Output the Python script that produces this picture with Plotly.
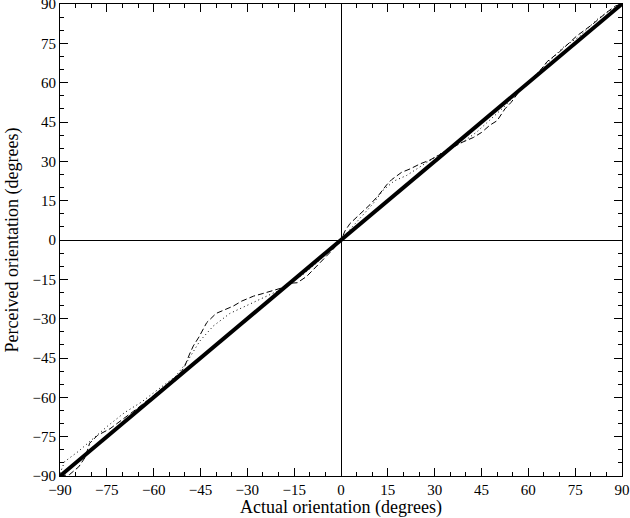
import plotly.graph_objects as go

# ideal response (identity)
ideal_x = [-90, 90]
ideal_y = [-90, 90]

# dashed curve
dash_x = [-90, -87, -84, -82, -80.5, -78, -74, -70, -65, -60, -55, -51, -50, -48.5,
          -47.3, -45.5, -44, -43, -40, -37.7, -34.5, -31.8, -28, -25, -21.7, -19,
          -16.5, -14, -11, -8.9, -5.7, -2.5, 0, 1.3, 2.9, 6.1, 9.3, 12, 14.6, 16.2,
          19.4, 22.1, 25.3, 28.5, 32.8, 35, 38.7, 42.4, 45, 47.7, 50, 52.5, 54.5,
          57, 60, 63.7, 66, 70, 75.5, 80.8, 85.1, 88, 90]
dash_y = [-90, -89.5, -86.5, -83, -77.5, -74.5, -72, -68.5, -64, -59.3, -54.5, -50,
          -48, -43.5, -40.4, -37, -34, -31.5, -28, -26.9, -25.2, -23.3, -21.4, -20.4,
          -19.3, -18.3, -16.5, -16.3, -13.9, -11.3, -7.6, -3.5, 0, 3.5, 6.3, 9.8,
          13.5, 17, 21, 23, 25.8, 27.1, 29, 30.5, 33.4, 35, 37.2, 39.1, 41, 43.8,
          45.5, 50, 52.5, 56.5, 60, 64.5, 68, 71.8, 77.8, 82.5, 86.8, 89.3, 90]

# dotted curve
dot_x = [-90, -88.5, -84.2, -80, -74.6, -69.3, -63.9, -59.7, -56.5, -53, -49.4,
         -45.2, -40.9, -35.6, -30.2, -24.9, -19.5, -16, -12, -8, -4, 0, 2.5, 5,
         8.2, 10.3, 13.5, 17, 21, 27.4, 31.7, 35, 39.2, 43.5, 48, 52, 56, 60, 64,
         71.2, 76.6, 81.9, 86, 90]
dot_y = [-89, -84.5, -80.7, -76.3, -70.8, -65.8, -61.8, -58, -55.3, -52, -46.6,
         -38.5, -32.8, -28, -25, -22, -19, -16.2, -13, -9, -4.5, 0, 3.5, 6.8,
         10.7, 13.9, 19, 22.5, 24.6, 29.6, 32.8, 35, 37.5, 41.2, 46, 50.5, 55.5,
         60, 65, 73.5, 77.8, 84, 87.5, 90]

tick_vals = [-90, -75, -60, -45, -30, -15, 0, 15, 30, 45, 60, 75, 90]

fig = go.Figure()

fig.add_trace(go.Scatter(x=dash_x, y=dash_y, mode="lines",
                         line=dict(color="black", width=1, dash="6px,3px")))
fig.add_trace(go.Scatter(x=dot_x, y=dot_y, mode="lines",
                         line=dict(color="black", width=1, dash="1px,3px")))
fig.add_trace(go.Scatter(x=ideal_x, y=ideal_y, mode="lines",
                         line=dict(color="black", width=4)))

axis_style = dict(
    range=[-90, 90],
    tickmode="array",
    tickvals=tick_vals,
    ticks="inside",
    ticklen=8,
    tickwidth=1,
    tickcolor="black",
    minor=dict(ticks="inside", ticklen=4, dtick=5, tickcolor="black", showgrid=False),
    showgrid=False,
    zeroline=True,
    zerolinecolor="black",
    zerolinewidth=1,
    showline=True,
    linecolor="black",
    linewidth=1,
    mirror="allticks",
    automargin=False,
    ticklabeloverflow="allow",
    tickfont=dict(family="Liberation Serif", size=15, color="black"),
)

fig.update_xaxes(**axis_style,
                 title=dict(text="Actual orientation (degrees)", standoff=2,
                            font=dict(family="Liberation Serif", size=18, color="black")))
fig.update_yaxes(**axis_style,
                 title=dict(text="Perceived orientation (degrees)", standoff=9,
                            font=dict(family="Liberation Serif", size=18, color="black")))

fig.update_layout(
    width=630,
    height=518,
    margin=dict(l=60, r=8, t=4, b=42),
    paper_bgcolor="white",
    plot_bgcolor="white",
    showlegend=False,
)

# drop the browser's default page margin so the figure sits at the corner
fig.write_html("out.html", config={"displayModeBar": False},
               post_script="document.body.style.margin='0';")
